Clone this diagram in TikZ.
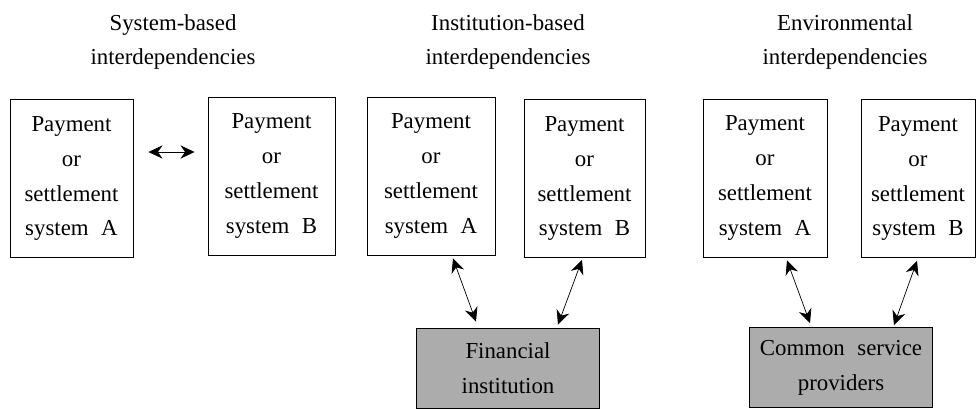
\documentclass[tikz,border=0pt]{standalone}
\usepackage{fontspec}
\setmainfont{Liberation Serif}[WordSpace=2.2]
\usetikzlibrary{arrows.meta, calc}
\tikzset{>={Stealth[length=8pt,width=7.5pt]}}
\tikzset{
  sysbox/.style={draw, line width=0.5pt, align=center, minimum height=3.16cm, inner sep=0pt},
  provbox/.style={draw, line width=0.5pt, fill=gray!65, align=center, minimum width=3.66cm, minimum height=1.6cm, inner sep=0pt},
  grouptitle/.style={align=center}
}

\begin{document}
\begin{tikzpicture}[x=0.02cm, y=-0.02cm, font=\fontsize{13}{19.9}\selectfont]
    \useasboundingbox (0,0) rectangle (978,410);
    % group titles
    \node [grouptitle] (sysTitle) at (173,42) {System-based\\interdependencies};
    \node [grouptitle] (instTitle) at (508,42) {Institution-based\\interdependencies};
    \node [grouptitle] (envTitle) at (845,42) {Environmental\\interdependencies};
    % payment or settlement systems
    \node [sysbox, minimum width=2.46cm] (sysA) at (71.5,178.5) {Payment\\or\\settlement\\system A};
    \node [sysbox, minimum width=2.54cm] (sysB) at (271.5,176) {Payment\\or\\settlement\\system B};
    \node [sysbox, minimum width=2.56cm] (instA) at (431,176) {Payment\\or\\settlement\\system A};
    \node [sysbox, minimum width=2.42cm] (instB) at (584.5,178.5) {Payment\\or\\settlement\\system B};
    \node [sysbox, minimum width=2.48cm] (envA) at (765,178) {Payment\\or\\settlement\\system A};
    \node [sysbox, minimum width=2.28cm] (envB) at (918,178.5) {Payment\\or\\settlement\\system B};
    % shared parties
    \node [provbox] (fin) at (508,368) {Financial\\institution};
    \node [provbox] (csp) at (841,367.5) {Common service\\providers};
    % links
    \draw [<->] ($(sysA.east)+(15,-26.5)$) -- ($(sysB.west)+(-13,-24)$);
    \draw [<->] ($(instA.south)+(22,3)$) -- ($(fin.north)+(-32,-6)$);
    \draw [<->] ($(instB.south)+(-2.5,2)$) -- ($(fin.north)+(50,-3)$);
    \draw [<->] ($(envA.south)+(22,3)$) -- ($(csp.north)+(-31,-4)$);
    \draw [<->] ($(envB.south)+(-1,3)$) -- ($(csp.north)+(53,-2)$);
\end{tikzpicture}
\end{document}
